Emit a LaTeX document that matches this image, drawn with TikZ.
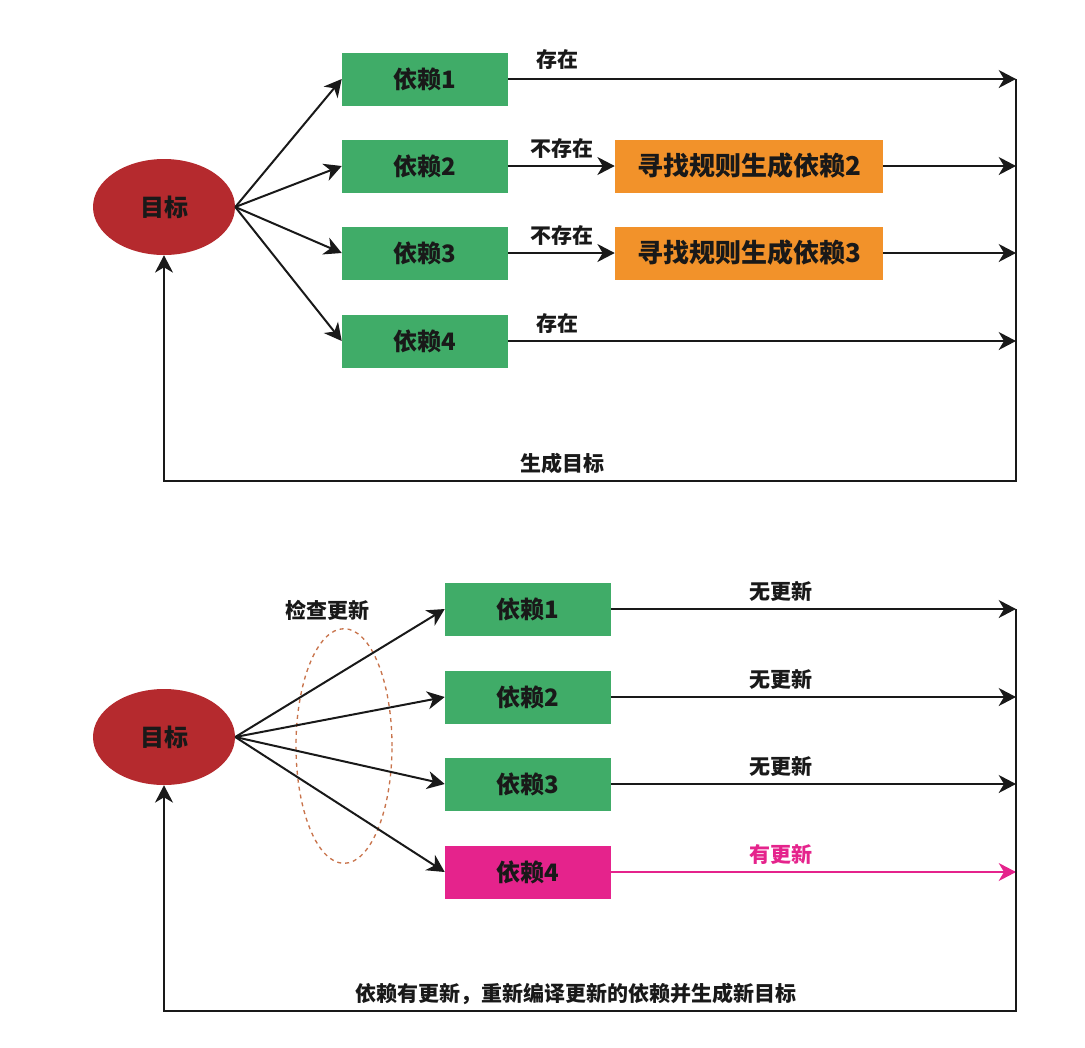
\documentclass[tikz,border=0pt]{standalone}
\usepackage{fontspec}
\setmainfont{Noto Sans CJK SC}
\usepackage{tikz}
\usetikzlibrary{shapes.geometric, arrows.meta, positioning, calc}
\definecolor{mygreen}{RGB}{64,172,104}
\definecolor{myred}{RGB}{181,42,46}
\definecolor{myorange}{RGB}{242,146,42}
\definecolor{mypink}{RGB}{229,35,140}
\definecolor{mydark}{RGB}{25,25,25}
\definecolor{mydash}{RGB}{200,115,75}
\tikzset{
  goal/.style={ellipse, fill=myred, inner sep=0pt,
    minimum width=106.5pt, minimum height=72pt,
    font=\fontsize{18}{18}\selectfont\bfseries, text=mydark},
  depbox/.style={rectangle, fill=mygreen,
    minimum width=124.5pt, minimum height=39.75pt,
    font=\fontsize{18}{18}\selectfont\bfseries, text=mydark},
  rulebox/.style={rectangle, fill=myorange,
    minimum width=201pt, minimum height=39.75pt,
    font=\fontsize{19.5}{20}\selectfont\bfseries, text=mydark},
  hotbox/.style={depbox, fill=mypink},
  checkring/.style={ellipse, draw=mydash, dashed, line width=1pt,
    minimum width=72pt, minimum height=176pt},
  arrow/.style={-{Stealth[length=13pt, width=13.5pt, inset=4pt]},
    line width=1.5pt, color=mydark},
  hotarrow/.style={arrow, color=mypink, line width=1pt},
  lbl/.style={font=\fontsize{15.75}{16}\selectfont\bfseries,
    text=mydark, inner sep=2pt},
  hotlbl/.style={lbl, text=mypink}
}
\begin{document}
\begin{tikzpicture}[x=0.75pt, y=-0.75pt]
  \useasboundingbox (0,0) rectangle (1085,1047);

  % Upper chart: dependencies that may be missing
  \node[goal] (goalA) at (164,207) {目标};
  \node[depbox] (depA1) at (425,79) {依赖1};
  \node[depbox] (depA2) at (425,166) {依赖2};
  \node[depbox] (depA3) at (425,253) {依赖3};
  \node[depbox] (depA4) at (425,341) {依赖4};
  \node[rulebox] (ruleA2) at (749,166) {寻找规则生成依赖2};
  \node[rulebox] (ruleA3) at (749,253) {寻找规则生成依赖3};
  \coordinate (railA) at (1016,481);

  \foreach \i in {1,...,4}
    \draw[arrow] (goalA.east) -- (depA\i.west);

  \draw[arrow] (depA1.east) -- node[lbl, above=4pt, pos=0.096] {存在} (railA |- depA1);
  \draw[arrow] (depA2.east) -- node[lbl, above=3pt] {不存在} (ruleA2.west);
  \draw[arrow] (depA3.east) -- node[lbl, above=3pt] {不存在} (ruleA3.west);
  \draw[arrow] (ruleA2.east) -- (railA |- ruleA2);
  \draw[arrow] (ruleA3.east) -- (railA |- ruleA3);
  \draw[arrow] (depA4.east) -- node[lbl, above=3pt, pos=0.096] {存在} (railA |- depA4);

  % feedback to the goal
  \draw[arrow] (railA |- depA1) -- (railA) -| node[lbl, above=3pt, pos=0.266] {生成目标} (goalA.south);

  % Lower chart: checking dependencies for updates
  \node[checkring] (ring) at (344,746) {};
  \node[lbl] (ringlbl) at (327,610) {检查更新};
  \node[goal] (goalB) at (164,737) {目标};
  \node[depbox] (depB1) at (528,609) {依赖1};
  \node[depbox] (depB2) at (528,697) {依赖2};
  \node[depbox] (depB3) at (528,784) {依赖3};
  \node[hotbox] (depB4) at (528,872) {依赖4};
  \coordinate (railB) at (1016,1011);

  \foreach \i in {1,...,4}
    \draw[arrow] (goalB.east) -- (depB\i.west);

  \foreach \i in {1,2,3}
    \draw[arrow] (depB\i.east) -- node[lbl, above=3pt, pos=0.42] {无更新} (railB |- depB\i);
  \draw[hotarrow] (depB4.east) -- node[hotlbl, above=3pt, pos=0.42] {有更新} (railB |- depB4);

  % feedback to the goal
  \draw[arrow] (railB |- depB1) -- (railB) -| node[lbl, above=2pt, pos=0.258] {依赖有更新，重新编译更新的依赖并生成新目标} (goalB.south);
\end{tikzpicture}
\end{document}
